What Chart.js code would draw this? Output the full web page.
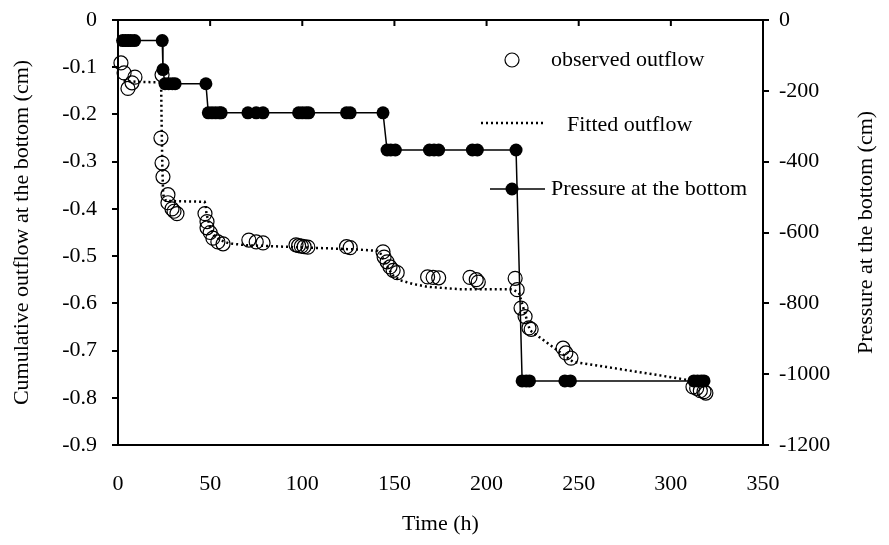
<!DOCTYPE html>
<html>
<head>
<meta charset="utf-8">
<script src="https://cdn.jsdelivr.net/npm/chart.js@4.4.1/dist/chart.umd.min.js"></script>
<style>
  html, body { margin: 0; padding: 0; background: #fff; }
  #wrap { width: 889px; height: 545px; }
</style>
</head>
<body>
<div id="wrap"><canvas id="outflowChart" width="889" height="545"></canvas></div>
<script>
// observed cumulative outflow (cm)
const obsTime = [1.6, 3.3, 5.4, 7.6, 9.2, 23.9, 23.3, 23.9, 24.4, 27.1, 27.1, 29.3, 30.4, 32,
  47.2, 48.3, 48.3, 50, 51.5, 54.2, 57, 71, 75, 78.7, 96.6, 98, 99.5, 101, 103, 124, 126,
  143.8, 144.4, 146, 147.6, 149.3, 151.5, 168, 171, 174, 191, 194.4, 195.5,
  215.5, 216.6, 218.7, 220.9, 223, 224.2, 241.5, 243, 245.8, 312, 314, 316, 318, 319];
const obsOutflow = [-0.091, -0.112, -0.145, -0.133, -0.121, -0.116, -0.25, -0.303, -0.332, -0.37, -0.387, -0.4, -0.405, -0.41,
  -0.41, -0.427, -0.44, -0.45, -0.462, -0.47, -0.474, -0.466, -0.47, -0.472, -0.476, -0.478, -0.479, -0.48, -0.481, -0.48, -0.482,
  -0.491, -0.502, -0.512, -0.523, -0.53, -0.535, -0.544, -0.545, -0.546, -0.545, -0.55, -0.555,
  -0.547, -0.571, -0.61, -0.628, -0.652, -0.655, -0.695, -0.705, -0.716, -0.777, -0.78, -0.785, -0.787, -0.79];

// fitted outflow (cm)
const fitTime = [3, 10, 23.4, 23.6, 24, 24.5, 26, 35, 47, 47.5, 48, 50, 52, 55, 60, 70, 90, 110, 130, 141,
  142.5, 145, 149, 153, 160, 168, 185, 200, 214, 217.6, 220, 223.5, 233, 247, 268.6, 290, 308.7, 315];
const fitOutflow = [-0.128, -0.131, -0.132, -0.2, -0.3, -0.37, -0.383, -0.384, -0.385, -0.39, -0.41, -0.44, -0.455, -0.465, -0.473, -0.477, -0.48, -0.483, -0.486, -0.489,
  -0.495, -0.515, -0.54, -0.551, -0.559, -0.565, -0.57, -0.57, -0.57, -0.578, -0.61, -0.657, -0.684, -0.724, -0.737, -0.75, -0.762, -0.765];

// pressure at the bottom (cm)
const presTime = [2.5, 4, 5.5, 7, 9, 24, 24.4, 25.5, 27.5, 29.5, 31, 47.7, 49, 51, 53, 55, 56,
  70.5, 75, 78.7, 98, 100, 102, 103.5, 124, 126, 143.8, 146, 148, 150.5, 169, 171.5, 174,
  192.3, 195, 216, 219.3, 221.5, 223.3, 242.5, 245.5, 312.5, 314.5, 316.5, 318];
const presValue = [-58, -58, -58, -58, -58, -58, -140, -180, -180, -180, -180, -180, -262, -262, -262, -262, -262,
  -262, -262, -262, -262, -262, -262, -262, -262, -262, -262, -367, -367, -367, -367, -367, -367,
  -367, -367, -367, -1019, -1019, -1019, -1019, -1019, -1019, -1019, -1019, -1019];

const timeTicks = [0, 350, 50];
const outflowTicks = [-0.9, 0, 0.1];
const pressureTicks = [-1200, 0, 200];

const toPoints = (xs, ys) => xs.map((x, i) => ({ x: x, y: ys[i] }));

Chart.defaults.font.family = '"Liberation Serif", "Times New Roman", serif';
Chart.defaults.font.size = 22;
Chart.defaults.color = '#000';

// top axis line with tick marks, right title and the legend box
const extrasPlugin = {
  id: 'extras',
  afterDraw(chart) {
    const ctx = chart.ctx;
    const area = chart.chartArea;
    const xs = chart.scales.x;
    ctx.save();
    ctx.strokeStyle = '#000';
    ctx.lineWidth = 2;
    ctx.beginPath();
    ctx.moveTo(area.left - 6, area.top);
    ctx.lineTo(area.right + 6, area.top);
    xs.ticks.forEach(t => {
      const px = xs.getPixelForValue(t.value);
      ctx.moveTo(px, area.top);
      ctx.lineTo(px, area.top + 6);
    });
    ctx.stroke();

    ctx.fillStyle = '#000';
    ctx.font = '22px "Liberation Serif", serif';
    ctx.textBaseline = 'middle';

    // right axis title
    ctx.save();
    ctx.translate(866, (area.top + area.bottom) / 2);
    ctx.rotate(-Math.PI / 2);
    ctx.textAlign = 'center';
    ctx.fillText('Pressure at the bottom (cm)', 0, 0);
    ctx.restore();

    // legend
    ctx.textAlign = 'left';
    ctx.lineWidth = 1.2;
    ctx.beginPath();
    ctx.arc(512, 60, 7, 0, Math.PI * 2);
    ctx.stroke();
    ctx.fillText('observed outflow', 551, 60);

    ctx.lineWidth = 2.5;
    ctx.setLineDash([2, 3]);
    ctx.beginPath();
    ctx.moveTo(481, 123);
    ctx.lineTo(543, 123);
    ctx.stroke();
    ctx.setLineDash([]);
    ctx.fillText('Fitted outflow', 567, 125);

    ctx.lineWidth = 1.5;
    ctx.beginPath();
    ctx.moveTo(490, 189);
    ctx.lineTo(545, 189);
    ctx.stroke();
    ctx.beginPath();
    ctx.arc(512, 189, 6.5, 0, Math.PI * 2);
    ctx.fill();
    ctx.fillText('Pressure at the bottom', 551, 189);
    ctx.restore();
  }
};

function noPad(scale) {
  scale.paddingTop = 0;
  scale.paddingBottom = 0;
  scale.paddingLeft = 0;
  scale.paddingRight = 0;
}

const ctx = document.getElementById('outflowChart').getContext('2d');
const outflowChart = new Chart(ctx, {
  type: 'scatter',
  data: {
    datasets: [
      {
        label: 'Pressure at the bottom',
        data: toPoints(presTime, presValue),
        yAxisID: 'y2',
        showLine: true,
        borderColor: '#000',
        borderWidth: 1.5,
        backgroundColor: '#000',
        pointRadius: 6.5,
        pointBorderWidth: 0,
        clip: false,
        order: 0
      },
      {
        label: 'observed outflow',
        data: toPoints(obsTime, obsOutflow),
        yAxisID: 'y',
        showLine: false,
        pointStyle: 'circle',
        pointRadius: 7,
        pointBorderWidth: 1.2,
        borderColor: '#000',
        backgroundColor: 'rgba(0,0,0,0)',
        clip: false,
        order: 1
      },
      {
        label: 'Fitted outflow',
        data: toPoints(fitTime, fitOutflow),
        yAxisID: 'y',
        showLine: true,
        borderColor: '#000',
        borderWidth: 2.5,
        borderDash: [2, 3],
        pointRadius: 0,
        clip: false,
        order: 2
      }
    ]
  },
  options: {
    responsive: false,
    animation: false,
    layout: { padding: { top: 20, left: 0, right: 0, bottom: 0 } },
    plugins: {
      legend: { display: false },
      tooltip: { enabled: false }
    },
    scales: {
      x: {
        type: 'linear',
        position: 'bottom',
        min: timeTicks[0],
        max: timeTicks[1],
        ticks: { stepSize: timeTicks[2], padding: 26, maxRotation: 0 },
        grid: { drawOnChartArea: false, drawTicks: false },
        border: { display: true, color: '#000', width: 2 },
        title: { display: true, text: 'Time (h)', padding: { top: 8, bottom: 8 } },
        afterFit(scale) { scale.height = 100; noPad(scale); }
      },
      y: {
        position: 'left',
        min: outflowTicks[0],
        max: outflowTicks[1],
        ticks: { stepSize: outflowTicks[2], padding: 15 },
        grid: { drawOnChartArea: false, tickLength: 6, color: '#000', lineWidth: 2 },
        border: { display: true, color: '#000', width: 2 },
        title: { display: true, text: 'Cumulative outflow at the bottom (cm)', padding: { top: 9, bottom: 9 } },
        afterFit(scale) { scale.width = 118; noPad(scale); }
      },
      y2: {
        position: 'right',
        min: pressureTicks[0],
        max: pressureTicks[1],
        ticks: {
          stepSize: pressureTicks[2],
          padding: 10,
          callback: v => String(v)
        },
        grid: { drawOnChartArea: false, tickLength: 6, color: '#000', lineWidth: 2 },
        border: { display: true, color: '#000', width: 2 },
        afterFit(scale) { scale.width = 126; noPad(scale); }
      }
    }
  },
  plugins: [extrasPlugin]
});
</script>
</body>
</html>
